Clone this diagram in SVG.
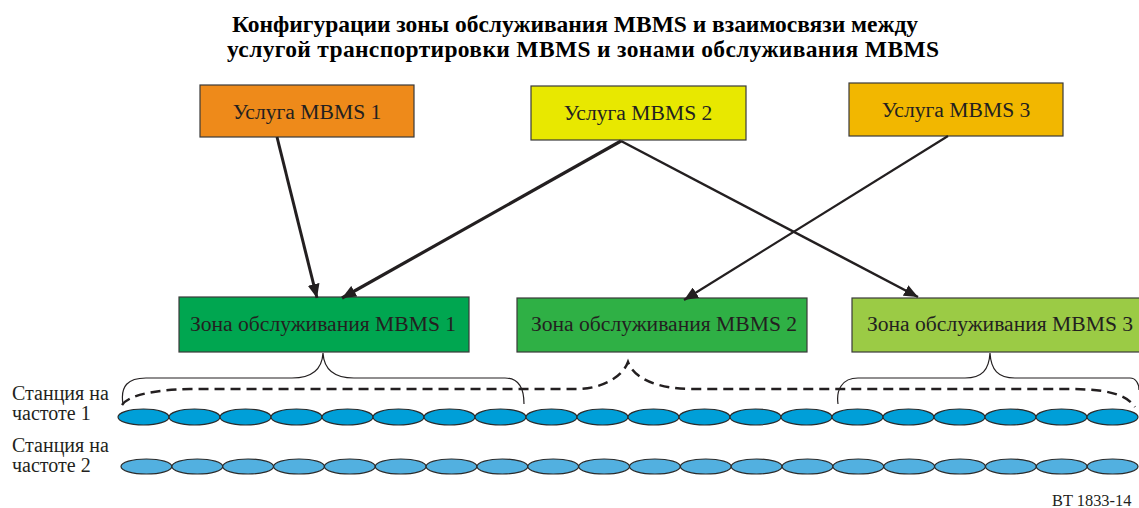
<svg xmlns="http://www.w3.org/2000/svg" width="1139" height="508" viewBox="0 0 1139 508">
<style>
.title{font-family:"Liberation Serif","Times New Roman",serif;font-weight:bold;font-size:23.5px;fill:#000;text-anchor:middle}
.lbl{font-family:"Liberation Serif","Times New Roman",serif;font-size:21.6px;fill:#231F20;text-anchor:middle}
.side{font-family:"Liberation Serif","Times New Roman",serif;font-size:20px;fill:#231F20}
.box{stroke:#3a3a3a;stroke-width:1.2}
.conn{stroke:#231F20;fill:none}
.brace{stroke:#231F20;stroke-width:1.2;fill:none}
.dash{stroke:#231F20;stroke-width:2.5;fill:none;stroke-dasharray:10 6}
.c1{fill:#009FD8;stroke:#2b2b2b;stroke-width:1.2}
.c2{fill:#52B0E0;stroke:#2b2b2b;stroke-width:1.2}
</style>
<defs>
<marker id="ah" viewBox="0 0 14 12" refX="14" refY="6" markerWidth="14" markerHeight="12" markerUnits="userSpaceOnUse" orient="auto">
<path d="M0,0 L14,6 L0,12 Z" fill="#231F20"/>
</marker>
</defs>
<rect width="1139" height="508" fill="#fff"/>
<text class="title" x="575" y="32" textLength="686">Конфигурации зоны обслуживания MBMS и взаимосвязи между</text>
<text class="title" x="583" y="57" textLength="712">услугой транспортировки MBMS и зонами обслуживания MBMS</text>

<g id="svc1"><rect class="box" x="200" y="85" width="214" height="52" fill="#EE8A1A"/><text class="lbl" x="307" y="119">Услуга MBMS 1</text></g>
<g id="svc2"><rect class="box" x="531" y="86" width="215" height="54" fill="#E8E800"/><text class="lbl" x="638" y="120">Услуга MBMS 2</text></g>
<g id="svc3"><rect class="box" x="849" y="83" width="214" height="53" fill="#F2B700"/><text class="lbl" x="956" y="117">Услуга MBMS 3</text></g>

<g id="zone1"><rect class="box" x="179" y="297" width="290" height="55" fill="#00A650"/><text class="lbl" x="323" y="331">Зона обслуживания MBMS 1</text></g>
<g id="zone2"><rect class="box" x="517" y="298" width="290" height="54" fill="#2FB045"/><text class="lbl" x="664" y="331">Зона обслуживания MBMS 2</text></g>
<g id="zone3"><rect class="box" x="852" y="298" width="290" height="54" fill="#9BCB45"/><text class="lbl" x="1000" y="331">Зона обслуживания MBMS 3</text></g>

<g id="connectors">
<line class="conn" stroke-width="3" x1="277" y1="137" x2="317" y2="298" marker-end="url(#ah)"/>
<line class="conn" stroke-width="3.2" x1="621" y1="141" x2="342" y2="298" marker-end="url(#ah)"/>
<line class="conn" stroke-width="2.5" x1="621" y1="141" x2="918" y2="297" marker-end="url(#ah)"/>
<line class="conn" stroke-width="2.2" x1="948" y1="136" x2="684" y2="300" marker-end="url(#ah)"/>
<path class="brace" d="M123,404 C120,386 128,378 146,378 L292,378 C312,378 322,370 323,353 C324,370 334,378 354,378 L505,378 C520,378 524,390 524,404"/>
<path class="brace" d="M838,404 C836,390 842,378 858,378 L965,378 C982,378 989,370 990,353 C991,370 998,378 1015,378 L1130,378 C1136,378 1139,384 1139,390"/>
<path class="dash" d="M122,405 C128,396 150,390 190,389 L577,389 C600,389 622,378 628,362 C634,378 656,389 693,389 L1067,389 C1100,389 1125,392 1135,407"/>
</g>

<g id="row1">
<ellipse class="c1" cx="143.5" cy="417" rx="25.5" ry="8"/>
<ellipse class="c1" cx="194.5" cy="417" rx="25.5" ry="8"/>
<ellipse class="c1" cx="245.5" cy="417" rx="25.5" ry="8"/>
<ellipse class="c1" cx="296.5" cy="417" rx="25.5" ry="8"/>
<ellipse class="c1" cx="347.5" cy="417" rx="25.5" ry="8"/>
<ellipse class="c1" cx="398.5" cy="417" rx="25.5" ry="8"/>
<ellipse class="c1" cx="449.5" cy="417" rx="25.5" ry="8"/>
<ellipse class="c1" cx="500.5" cy="417" rx="25.5" ry="8"/>
<ellipse class="c1" cx="551.5" cy="417" rx="25.5" ry="8"/>
<ellipse class="c1" cx="602.5" cy="417" rx="25.5" ry="8"/>
<ellipse class="c1" cx="653.5" cy="417" rx="25.5" ry="8"/>
<ellipse class="c1" cx="704.5" cy="417" rx="25.5" ry="8"/>
<ellipse class="c1" cx="755.5" cy="417" rx="25.5" ry="8"/>
<ellipse class="c1" cx="806.5" cy="417" rx="25.5" ry="8"/>
<ellipse class="c1" cx="857.5" cy="417" rx="25.5" ry="8"/>
<ellipse class="c1" cx="908.5" cy="417" rx="25.5" ry="8"/>
<ellipse class="c1" cx="959.5" cy="417" rx="25.5" ry="8"/>
<ellipse class="c1" cx="1010.5" cy="417" rx="25.5" ry="8"/>
<ellipse class="c1" cx="1061.5" cy="417" rx="25.5" ry="8"/>
<ellipse class="c1" cx="1112.5" cy="417" rx="25.5" ry="8"/>
</g>
<g id="row2">
<ellipse class="c2" cx="146.4" cy="466.5" rx="25.4" ry="7.5"/>
<ellipse class="c2" cx="197.3" cy="466.5" rx="25.4" ry="7.5"/>
<ellipse class="c2" cx="248.1" cy="466.5" rx="25.4" ry="7.5"/>
<ellipse class="c2" cx="299" cy="466.5" rx="25.4" ry="7.5"/>
<ellipse class="c2" cx="349.8" cy="466.5" rx="25.4" ry="7.5"/>
<ellipse class="c2" cx="400.7" cy="466.5" rx="25.4" ry="7.5"/>
<ellipse class="c2" cx="451.5" cy="466.5" rx="25.4" ry="7.5"/>
<ellipse class="c2" cx="502.4" cy="466.5" rx="25.4" ry="7.5"/>
<ellipse class="c2" cx="553.2" cy="466.5" rx="25.4" ry="7.5"/>
<ellipse class="c2" cx="604.1" cy="466.5" rx="25.4" ry="7.5"/>
<ellipse class="c2" cx="654.9" cy="466.5" rx="25.4" ry="7.5"/>
<ellipse class="c2" cx="705.8" cy="466.5" rx="25.4" ry="7.5"/>
<ellipse class="c2" cx="756.6" cy="466.5" rx="25.4" ry="7.5"/>
<ellipse class="c2" cx="807.5" cy="466.5" rx="25.4" ry="7.5"/>
<ellipse class="c2" cx="858.3" cy="466.5" rx="25.4" ry="7.5"/>
<ellipse class="c2" cx="909.2" cy="466.5" rx="25.4" ry="7.5"/>
<ellipse class="c2" cx="960" cy="466.5" rx="25.4" ry="7.5"/>
<ellipse class="c2" cx="1010.9" cy="466.5" rx="25.4" ry="7.5"/>
<ellipse class="c2" cx="1061.7" cy="466.5" rx="25.4" ry="7.5"/>
<ellipse class="c2" cx="1112.6" cy="466.5" rx="25.4" ry="7.5"/>
</g>

<text class="side" x="12" y="400">Станция на</text>
<text class="side" x="12" y="420">частоте 1</text>
<text class="side" x="12" y="452">Станция на</text>
<text class="side" x="12" y="472">частоте 2</text>
<text class="side" x="1052" y="506" style="font-size:16.4px">BT 1833-14</text>
</svg>
